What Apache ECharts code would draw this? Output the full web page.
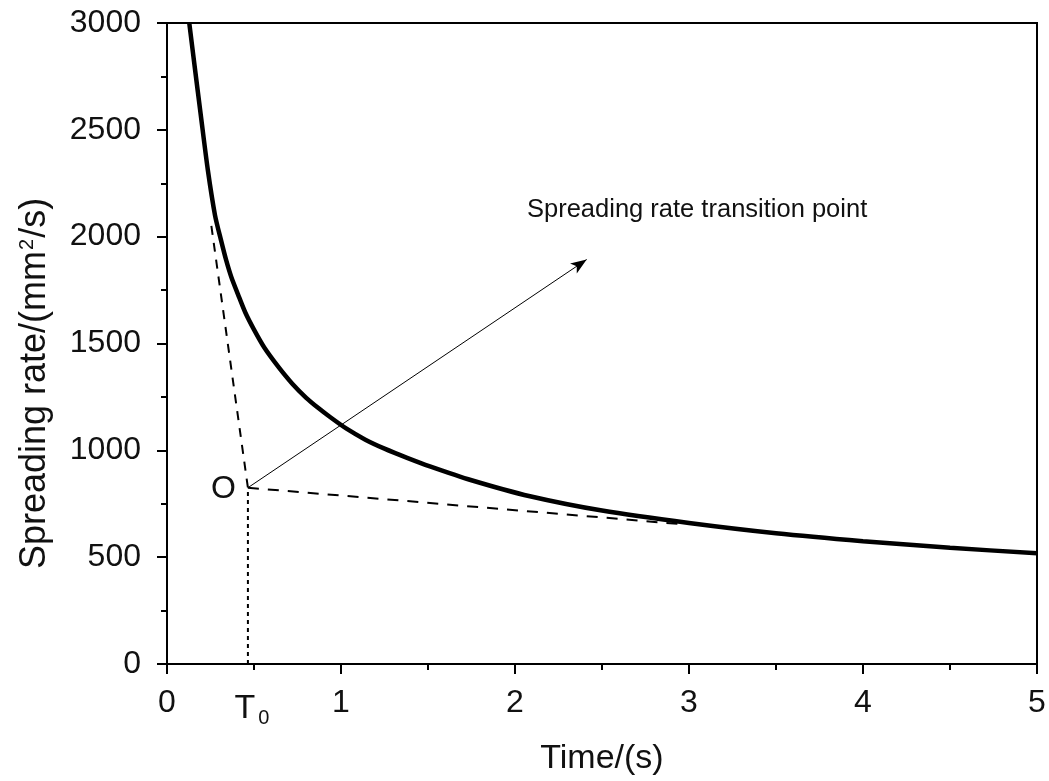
<!DOCTYPE html>
<html>
<head>
<meta charset="utf-8">
<script src="https://cdn.jsdelivr.net/npm/echarts@6/dist/echarts.min.js"></script>
<style>
html,body{margin:0;padding:0;background:#fff;}
#c{width:1049px;height:781px;}
</style>
</head>
<body>
<div id="c"></div>
<script>
// Main curve: time (s) and spreading rate (mm^2/s)
const timeS = [0.128, 0.16, 0.194, 0.235, 0.276, 0.31, 0.34, 0.37, 0.408, 0.45, 0.5, 0.56, 0.638, 0.72, 0.8, 0.87, 0.937, 1.034, 1.14, 1.25, 1.38, 1.511, 1.75, 2.086, 2.5, 3.0, 3.5, 4.0, 4.5, 5.0];
const rateV = [3000, 2790, 2570, 2310, 2100, 1985, 1890, 1810, 1730, 1645, 1565, 1480, 1393, 1312, 1246, 1198, 1156, 1100, 1050, 1008, 965, 925, 860, 785, 718, 660, 612, 575, 544, 518];

// Construction lines
const T0 = 0.465;
const rateO = 825;
const tangentSteep = [[0.255, 2050], [T0, rateO]];
const tangentFlat = [[T0, rateO], [2.95, 655]];
const dropLine = [[T0, 0], [T0, rateO]];
const arrowTip = [2.412, 1893];
const noteAt = [2.069, 2126];
const noteText = 'Spreading rate transition point';

const xTicks = [0, 1, 2, 3, 4, 5];
const yTicks = [0, 500, 1000, 1500, 2000, 2500, 3000];

const FONT = '"Liberation Sans", Arial, sans-serif';
const INK = '#111';
const chart = echarts.init(document.getElementById('c'), null, {renderer: 'canvas'});

const curveData = timeS.map((t, i) => [t, rateV[i]]);

chart.setOption({
  animation: false,
  backgroundColor: '#fff',
  grid: {left: 167, right: 12, top: 23, bottom: 116, show: true, borderColor: '#000', borderWidth: 2, backgroundColor: 'transparent'},
  xAxis: {
    type: 'value', min: xTicks[0], max: xTicks[xTicks.length - 1], interval: 1,
    name: 'Time/(s)', nameLocation: 'middle', nameGap: 78,
    nameTextStyle: {fontFamily: FONT, fontSize: 34, color: INK},
    axisLine: {lineStyle: {color: '#000', width: 2}},
    axisTick: {inside: false, length: 10, lineStyle: {color: '#000', width: 2}},
    minorTick: {show: true, splitNumber: 2, length: 6, lineStyle: {color: '#000', width: 2}},
    axisLabel: {fontFamily: FONT, fontSize: 32, color: INK, margin: 23},
    splitLine: {show: false}
  },
  yAxis: {
    type: 'value', min: yTicks[0], max: yTicks[yTicks.length - 1], interval: 500,
    axisLine: {lineStyle: {color: '#000', width: 2}},
    axisTick: {inside: false, length: 10, lineStyle: {color: '#000', width: 2}},
    minorTick: {show: true, splitNumber: 2, length: 6, lineStyle: {color: '#000', width: 2}},
    axisLabel: {fontFamily: FONT, fontSize: 32, color: INK, margin: 26, formatter: v => String(v)},
    splitLine: {show: false}
  },
  series: [
    {
      type: 'line', data: curveData, showSymbol: false, smooth: 0.25, z: 5,
      lineStyle: {color: '#000', width: 4.5}
    },
    {
      type: 'line', data: tangentSteep, showSymbol: false, z: 3,
      lineStyle: {color: '#000', width: 2, type: [9, 8]}
    },
    {
      type: 'line', data: tangentFlat, showSymbol: false, z: 3,
      lineStyle: {color: '#000', width: 2, type: [11, 9]}
    },
    {
      type: 'line', data: dropLine, showSymbol: false, z: 3,
      lineStyle: {color: '#000', width: 2, type: [4, 4]},
      markLine: {
        silent: true, symbol: ['none', 'arrow'], symbolSize: [9, 16],
        lineStyle: {color: '#000', width: 1, type: 'solid'},
        label: {show: false},
        data: [[{coord: [T0, rateO]}, {coord: arrowTip}]]
      }
    }
  ]
});

// Annotation texts anchored through the chart's own scales
const pO = chart.convertToPixel({gridIndex: 0}, [T0, rateO]);
const pT = chart.convertToPixel({gridIndex: 0}, [T0, 0]);
const pN = chart.convertToPixel({gridIndex: 0}, noteAt);
const gridTop = chart.convertToPixel({gridIndex: 0}, [0, yTicks[yTicks.length - 1]]);
const gridBot = chart.convertToPixel({gridIndex: 0}, [0, 0]);

chart.setOption({
  graphic: [
    {type: 'text', x: pO[0] - 12, y: pO[1] + 1, z: 10,
      style: {text: 'O', font: '32px ' + FONT, fill: INK, align: 'right', verticalAlign: 'middle'}},
    {type: 'text', x: pT[0] + 4, y: pT[1] + 26, z: 10,
      style: {text: 'T{sub|0}', font: '34px ' + FONT, fill: INK, align: 'center', verticalAlign: 'top',
        rich: {sub: {font: '20px ' + FONT, fill: INK, verticalAlign: 'bottom', padding: [18, 0, 0, 3]}}}},
    {type: 'text', x: pN[0], y: pN[1], z: 10,
      style: {text: noteText, font: '25.5px ' + FONT, fill: INK, align: 'left', verticalAlign: 'middle'}},
    {type: 'text', x: 35, y: (gridTop[1] + gridBot[1]) / 2 + 40, rotation: Math.PI / 2, z: 10,
      style: {text: 'Spreading rate/(mm{sup|2}/s)', font: '36px ' + FONT, fill: INK, align: 'center', verticalAlign: 'middle',
        rich: {sup: {font: '20px ' + FONT, fill: INK, verticalAlign: 'top', padding: [0, 1, 16, 1]}}}}
  ]
});
</script>
</body>
</html>
